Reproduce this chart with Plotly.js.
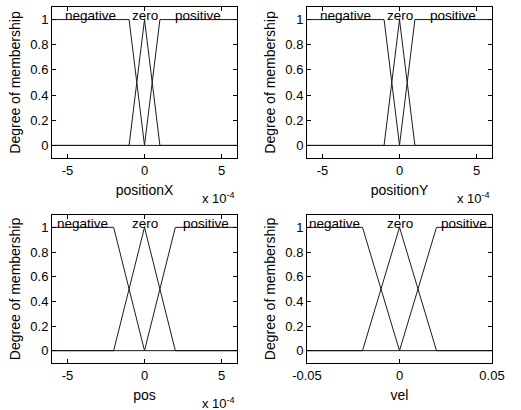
<!DOCTYPE html>
<html>
<head>
<meta charset="utf-8">
<script src="https://cdn.plot.ly/plotly-3.0.1.min.js"></script>
<style>html,body{margin:0;padding:0;background:#fff;}#chart{width:521px;height:410px;}</style>
</head>
<body>
<div id="chart"></div>
<script>
// ---- data ----
const mfNames = ["negative", "zero", "positive"];
const yTitle = "Degree of membership";

// positionX (units: raw, shown x 10^-4)
const pxNegX = [-6e-4, -1e-4, 0, 6e-4];
const pxNegY = [1, 1, 0, 0];
const pxZeroX = [-6e-4, -1e-4, 0, 1e-4, 6e-4];
const pxZeroY = [0, 0, 1, 0, 0];
const pxPosX = [-6e-4, 0, 1e-4, 6e-4];
const pxPosY = [0, 0, 1, 1];

// positionY
const pyNegX = [-6e-4, -1e-4, 0, 6e-4];
const pyNegY = [1, 1, 0, 0];
const pyZeroX = [-6e-4, -1e-4, 0, 1e-4, 6e-4];
const pyZeroY = [0, 0, 1, 0, 0];
const pyPosX = [-6e-4, 0, 1e-4, 6e-4];
const pyPosY = [0, 0, 1, 1];

// pos
const psNegX = [-6e-4, -2e-4, 0, 6e-4];
const psNegY = [1, 1, 0, 0];
const psZeroX = [-6e-4, -2e-4, 0, 2e-4, 6e-4];
const psZeroY = [0, 0, 1, 0, 0];
const psPosX = [-6e-4, 0, 2e-4, 6e-4];
const psPosY = [0, 0, 1, 1];

// vel
const vNegX = [-0.05, -0.02, 0, 0.05];
const vNegY = [1, 1, 0, 0];
const vZeroX = [-0.05, -0.02, 0, 0.02, 0.05];
const vZeroY = [0, 0, 1, 0, 0];
const vPosX = [-0.05, 0, 0.02, 0.05];
const vPosY = [0, 0, 1, 1];

const smallTickVals = [-5e-4, 0, 5e-4];
const smallTickText = ["-5", "0", "5"];
const velTickVals = [-0.05, 0, 0.05];
const velTickText = ["-0.05", "0", "0.05"];
const yTickVals = [0, 0.2, 0.4, 0.6, 0.8, 1];
const yTickText = ["0", "0.2", "0.4", "0.6", "0.8", "1"];

// label x positions (center of plateau / peak)
const pxLabelX = [-3.5e-4, 0, 3.5e-4];
const psLabelX = [-4e-4, 0, 4e-4];
const vLabelX = [-0.035, 0, 0.035];

// ---- build ----
const FONT = "Liberation Sans, Arial, Helvetica, sans-serif";
const lineStyle = {color: "#1a1a1a", width: 1};

const panels = [
  {xa: "x", ya: "y", title: "positionX", sets: [[pxNegX, pxNegY], [pxZeroX, pxZeroY], [pxPosX, pxPosY]], range: [-6e-4, 6e-4], tv: smallTickVals, tt: smallTickText, lab: pxLabelX, mult: true},
  {xa: "x2", ya: "y2", title: "positionY", sets: [[pyNegX, pyNegY], [pyZeroX, pyZeroY], [pyPosX, pyPosY]], range: [-6e-4, 6e-4], tv: smallTickVals, tt: smallTickText, lab: pxLabelX, mult: true},
  {xa: "x3", ya: "y3", title: "pos", sets: [[psNegX, psNegY], [psZeroX, psZeroY], [psPosX, psPosY]], range: [-6e-4, 6e-4], tv: smallTickVals, tt: smallTickText, lab: psLabelX, mult: true},
  {xa: "x4", ya: "y4", title: "vel", sets: [[vNegX, vNegY], [vZeroX, vZeroY], [vPosX, vPosY]], range: [-0.05, 0.05], tv: velTickVals, tt: velTickText, lab: vLabelX, mult: false}
];

const W = 521, H = 410;
const xDomains = [[52 / W, 237 / W], [307 / W, 492 / W], [52 / W, 237 / W], [307 / W, 492 / W]];
const yDomains = [[(H - 158) / H, (H - 7) / H], [(H - 158) / H, (H - 7) / H], [(H - 363) / H, (H - 215) / H], [(H - 363) / H, (H - 215) / H]];

const traces = [];
const annotations = [];
const layout = {
  width: W, height: H,
  margin: {l: 0, r: 0, t: 0, b: 0},
  paper_bgcolor: "#fff", plot_bgcolor: "#fff",
  showlegend: false,
  font: {family: FONT, size: 13, color: "#000"},
  annotations: annotations
};

panels.forEach((p, i) => {
  p.sets.forEach((s, k) => {
    traces.push({x: s[0], y: s[1], xaxis: p.xa, yaxis: p.ya, type: "scatter", mode: "lines", line: lineStyle, name: mfNames[k], hoverinfo: "skip"});
  });
  const xk = "xaxis" + (i === 0 ? "" : i + 1);
  const yk = "yaxis" + (i === 0 ? "" : i + 1);
  layout[xk] = {
    domain: xDomains[i], anchor: p.ya, range: p.range,
    tickmode: "array", tickvals: p.tv, ticktext: p.tt,
    ticks: "inside", ticklen: 4, tickcolor: "#000",
    showline: true, linecolor: "#000", linewidth: 1, mirror: "ticks",
    showgrid: false, zeroline: false, automargin: false,
    tickfont: {size: 13, family: FONT},
    title: {text: p.title, font: {size: 14, family: FONT}, standoff: 8}
  };
  layout[yk] = {
    domain: yDomains[i], anchor: p.xa, range: [-0.1, 1.1],
    tickmode: "array", tickvals: yTickVals, ticktext: yTickText,
    ticks: "inside", ticklen: 4, tickcolor: "#000",
    showline: true, linecolor: "#000", linewidth: 1, mirror: "ticks",
    showgrid: false, zeroline: false, automargin: false,
    tickfont: {size: 13, family: FONT},
    title: {text: yTitle, font: {size: 14, family: FONT}, standoff: 6}
  };
  mfNames.forEach((n, k) => {
    annotations.push({x: p.lab[k], y: 1.035, xref: p.xa, yref: p.ya, text: n, showarrow: false, xanchor: "center", yanchor: "middle", font: {size: 13.5, family: FONT, color: "#000"}});
  });
  if (p.mult) {
    annotations.push({x: 1, y: 0, xref: p.xa + " domain", yref: p.ya + " domain", text: "x 10<sup>-4</sup>", showarrow: false, xanchor: "right", yanchor: "middle", yshift: -40, font: {size: 13, family: FONT, color: "#000"}});
  }
});

Plotly.newPlot("chart", traces, layout, {staticPlot: true, displayModeBar: false});
</script>
</body>
</html>
